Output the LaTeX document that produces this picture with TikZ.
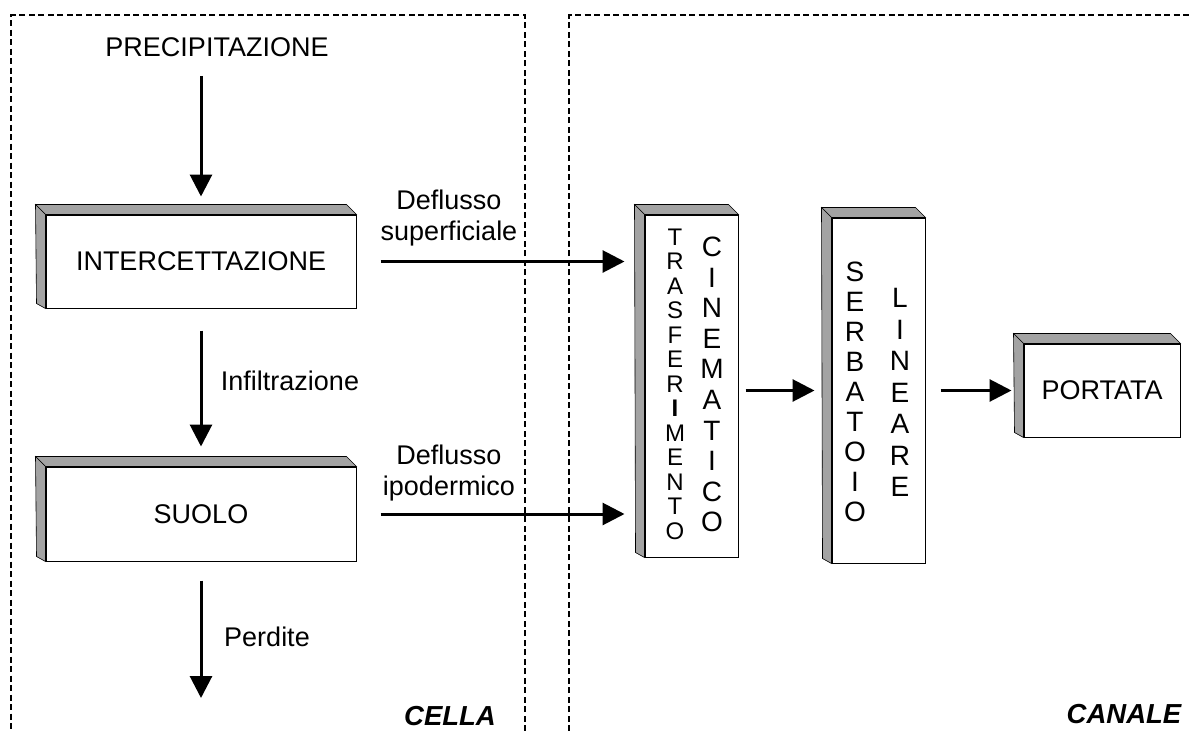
\documentclass[tikz,border=0pt]{standalone}
\usepackage{fontspec}
\setmainfont{Liberation Sans}
\usetikzlibrary{arrows.meta,calc}
\tikzset{
  txt/.style={inner sep=0pt, font=\fontsize{27}{31}\selectfont},
  box/.style={draw=black, line width=1pt, fill=white, rectangle, inner sep=0pt},
  face/.style={draw=black, line width=0.6pt, fill=black!36},
  arr/.style={line width=3pt, -{Triangle[length=22pt,width=22pt]}},
  zone/.style={line width=1.1pt, dash pattern=on 6pt off 3.5pt},
  vcol/.style={inner sep=0pt, align=center},
  zlabel/.style={inner sep=0pt, font=\fontsize{27.5}{31}\selectfont\bfseries\itshape}
}
\newcommand{\boxfaces}[1]{%
  \draw[face] (#1.north west) -- ++(-10,-10) -- ([shift={(-10,-10)}]#1.north east) -- (#1.north east) -- cycle;
  \draw[face] (#1.north west) -- ++(-10,-10) -- ([shift={(-9,-5)}]#1.south west) -- (#1.south west) -- cycle;
}
\begin{document}
\begin{tikzpicture}[x=1pt,y=-1pt]
\useasboundingbox[fill=white] (0,0) rectangle (1192,731);

% zones
\draw[zone] (525,731) -- (525,15) -- (11,15) -- (11,731);
\draw[zone] (569,731) -- (569,15) -- (1192,15);

% boxes
\node[box, minimum width=310pt, minimum height=93pt] (inter) at (201,261.5) {};
\boxfaces{inter}
\node[txt] (intert) at (inter) {INTERCETTAZIONE};

\node[box, minimum width=310pt, minimum height=94pt] (suolo) at (201,514) {};
\boxfaces{suolo}
\node[txt] (suolot) at (suolo) {SUOLO};

\node[box, minimum width=93pt, minimum height=342pt] (trasf) at (691.5,386) {};
\boxfaces{trasf}
\node[vcol, font=\fontsize{24}{24.5}\selectfont] (trasft) at (675,384)
  {T\\R\\A\\S\\F\\E\\R\\\textbf{I}\\M\\E\\N\\T\\O};
\node[vcol, font=\fontsize{28}{30.6}\selectfont] (cinet) at (712,384.5)
  {C\\I\\N\\E\\M\\A\\T\\I\\C\\O};

\node[box, minimum width=93pt, minimum height=345pt] (serb) at (878.5,390.5) {};
\boxfaces{serb}
\node[vcol, font=\fontsize{28}{30}\selectfont] (serbt) at (855,392)
  {S\\E\\R\\B\\A\\T\\O\\I\\O};
\node[vcol, font=\fontsize{28}{31.5}\selectfont] (lint) at (900,392.5)
  {L\\I\\N\\E\\A\\R\\E};

\node[box, minimum width=156pt, minimum height=93pt] (portata) at (1102,390.5) {};
\boxfaces{portata}
\node[txt] (portatat) at (portata) {PORTATA};

% texts
\node[txt] (precip) at (217,47) {PRECIPITAZIONE};
\node[txt, align=center] (lsup) at (449,218.5) {Deflusso\\superficiale};
\node[txt, align=center] (lipo) at (449,473) {Deflusso\\ipodermico};
\node[txt] (linf) at (290,381) {Infiltrazione};
\node[txt] (lper) at (267,637) {Perdite};
\node[zlabel] (cella) at (450,716) {CELLA};
\node[zlabel] (canale) at (1124,714) {CANALE};

\coordinate (loss) at (201,698);

% connectors
\draw[arr, shorten <=19pt, shorten >=18pt] (precip.south -| inter.north) -- (inter.north);
\draw[arr, shorten <=22pt, shorten >=20pt] (inter.south) -- (suolo.north);
\draw[arr, shorten <=19pt] (suolo.south) -- (loss);
\draw[arr, shorten <=24pt, shorten >=20pt] (inter.east) -- (inter.east -| trasf.west);
\draw[arr, shorten <=24pt, shorten >=20pt] (suolo.east) -- (suolo.east -| trasf.west);
\draw[arr, shorten <=7pt, shorten >=17pt] (trasf.east |- serb.west) -- (serb.west);
\draw[arr, shorten <=15pt, shorten >=12pt] (serb.east) -- (portata.west);
\end{tikzpicture}
\end{document}
